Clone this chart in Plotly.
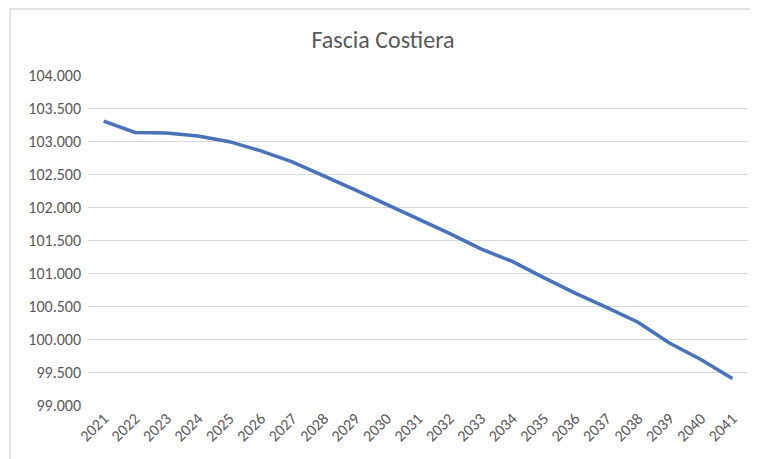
import plotly.graph_objects as go

years = [str(y) for y in range(2021, 2042)]
values = [103300, 103130, 103120, 103075, 102990, 102850, 102685, 102475, 102260,
          102040, 101825, 101600, 101365, 101175, 100930, 100695, 100480, 100255,
          99940, 99690, 99400]

y_ticks = list(range(99000, 104001, 500))

fig = go.Figure()
fig.add_trace(go.Scatter(
    x=years, y=values, mode="lines",
    line=dict(color="#4472C4", width=3.5),
    hoverinfo="skip"))

font_family = "Carlito, Calibri, 'Liberation Sans', Arial, sans-serif"

# page body has an 8px margin, so the figure is offset by 8px
fig.update_layout(
    width=750, height=451,
    margin=dict(l=80, r=10, t=67, b=54, autoexpand=False),
    paper_bgcolor="white", plot_bgcolor="white",
    separators=",.",
    showlegend=False,
    title=dict(text="Fascia Costiera", x=0.5, xanchor="center", y=0.929, yanchor="middle",
               font=dict(family=font_family, size=24, color="#595959")),
    font=dict(family=font_family, color="#595959"),
    xaxis=dict(type="category", range=[-0.5, 20.5], tickangle=-45, showgrid=False,
               showline=False, ticks="", automargin=False,
               tickfont=dict(size=16, color="#595959"), fixedrange=True),
    yaxis=dict(range=[99000, 104000], tickvals=y_ticks, tickformat=",d",
               showgrid=True, gridcolor="#D9D9D9", gridwidth=1, zeroline=False,
               showline=False, ticks="", automargin=False,
               tickfont=dict(size=16, color="#595959"),
               ticklabelstandoff=6, fixedrange=True),
    shapes=[
        dict(type="line", xref="paper", yref="paper", x0=-0.118, x1=1.2, y0=1.2, y1=1.2,
             line=dict(color="#D9D9D9", width=1.5)),
        dict(type="line", xref="paper", yref="paper", x0=-0.118, x1=-0.118, y0=1.2, y1=-0.3,
             line=dict(color="#D9D9D9", width=1.5)),
    ],
)

fig.write_html("out.html")
